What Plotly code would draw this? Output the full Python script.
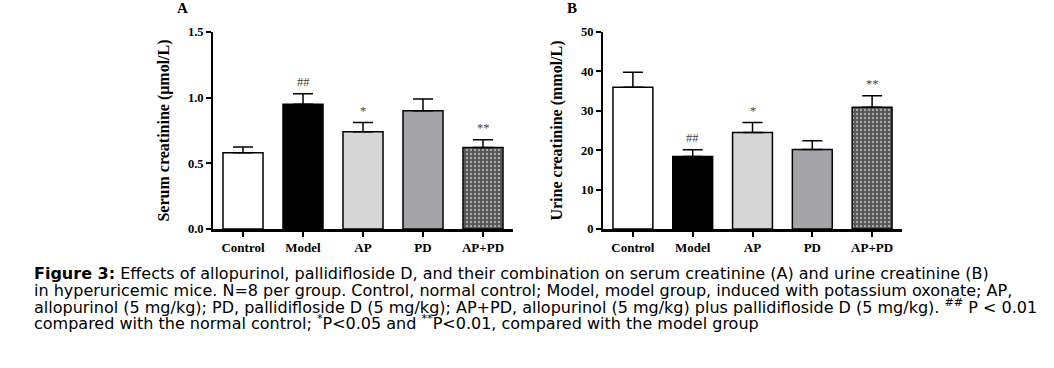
import plotly.graph_objects as go

W, H = 1054, 368

groups = ["Control", "Model", "AP", "PD", "AP+PD"]
serum_mean = [0.58, 0.95, 0.74, 0.90, 0.62]
serum_err = [0.045, 0.08, 0.07, 0.09, 0.06]
urine_mean = [36.0, 18.4, 24.5, 20.2, 30.9]
urine_err = [3.8, 1.7, 2.5, 2.2, 2.9]
sig_marks = ["", "##", "*", "", "**"]
serum_ticks = [0.0, 0.5, 1.0, 1.5]
urine_ticks = [0, 10, 20, 30, 40, 50]

fills = ["#ffffff", "#000000", "#d6d6d6", "#a3a3a8", "#555555"]

SERIF = "Liberation Serif"

def px_x(p):
    return p / W

def px_y(p):
    return 1 - p / H

fig = go.Figure()

def add_panel(xaxis, yaxis, means, errs):
    fig.add_trace(go.Bar(
        x=groups, y=means, xaxis=xaxis, yaxis=yaxis, width=0.667,
        marker=dict(
            color=fills,
            line=dict(color="black", width=1.5),
            pattern=dict(
                shape=["", "", "", "", "."],
                fgcolor="#9c9c9c",
                size=4, solidity=0.28,
                fillmode="overlay",
            ),
        ),
        error_y=dict(type="data", symmetric=False, array=errs,
                     arrayminus=[0] * len(errs), color="black",
                     thickness=1.5, width=10),
        showlegend=False, hoverinfo="skip",
    ))
    for g, m, e, s in zip(groups, means, errs, sig_marks):
        if s:
            fig.add_annotation(
                x=g, y=m + e, xref=xaxis, yref=yaxis, text=s,
                showarrow=False, yanchor="bottom", yshift=3,
                font=dict(family=SERIF, size=12.5, color="#444444"),
            )

add_panel("x", "y", serum_mean, serum_err)
add_panel("x2", "y2", urine_mean, urine_err)

ydom = [px_y(229), px_y(32)]
common_x = dict(
    range=[-0.5, 4.5], showline=True, linecolor="black", linewidth=2.5,
    ticks="outside", ticklen=5, tickwidth=2, tickcolor="black",
    tickfont=dict(family=SERIF, size=13, color="black", weight="bold"),
    showgrid=False, zeroline=False, fixedrange=True, automargin=False,
)
common_y = dict(
    showline=True, linecolor="black", linewidth=2,
    ticks="outside", ticklen=5, tickwidth=2, tickcolor="black",
    tickfont=dict(family=SERIF, size=12.5, color="black", weight="bold"),
    showgrid=False, zeroline=False, fixedrange=True, automargin=False,
    title=dict(font=dict(family=SERIF, size=16, color="black", weight="bold"),
               standoff=14),
)

fig.update_layout(
    width=W, height=H,
    margin=dict(l=0, r=0, t=0, b=0, autoexpand=False),
    paper_bgcolor="white", plot_bgcolor="white",
    xaxis=dict(domain=[px_x(213), px_x(513)], anchor="y", **common_x),
    yaxis=dict(domain=ydom, anchor="x", range=[0, 1.5],
               tickvals=serum_ticks, ticktext=[f"{v:.1f}" for v in serum_ticks],
               **{**common_y, "title": {**common_y["title"], "text": "Serum creatinine (μmol/L)"}}),
    xaxis2=dict(domain=[px_x(603), px_x(902)], anchor="y2", **common_x),
    yaxis2=dict(domain=ydom, anchor="x2", range=[0, 50],
                tickvals=urine_ticks, ticktext=[str(v) for v in urine_ticks],
                **{**common_y, "title": {**common_y["title"], "text": "Urine creatinine (mmol/L)"}}),
)

# panel letters
for lab, xp in [("A", 182), ("B", 572)]:
    fig.add_annotation(x=px_x(xp), y=px_y(8), xref="paper", yref="paper",
                       text=lab, showarrow=False, xanchor="center", yanchor="middle",
                       font=dict(family=SERIF, size=15, color="black", weight="bold"))

caption_lines = [
    "<b>Figure 3:</b> Effects of allopurinol, pallidifloside D, and their combination on serum creatinine (A) and urine creatinine (B)",
    "in hyperuricemic mice. N=8 per group. Control, normal control; Model, model group, induced with potassium oxonate; AP,",
    "allopurinol (5 mg/kg); PD, pallidifloside D (5 mg/kg); AP+PD, allopurinol (5 mg/kg) plus pallidifloside D (5 mg/kg). <sup>##</sup> P &lt; 0.01",
    "compared with the normal control; <sup>*</sup>P&lt;0.05 and <sup>**</sup>P&lt;0.01, compared with the model group",
]
caption_y = [273, 290, 306.5, 322]
for t, yp in zip(caption_lines, caption_y):
    fig.add_annotation(x=px_x(32), y=px_y(yp), xref="paper", yref="paper",
                       text=t, showarrow=False, xanchor="left", yanchor="middle",
                       align="left",
                       font=dict(family="DejaVu Sans", size=16, color="black"))

fig.write_html("out.html",
               config={"displayModeBar": False, "staticPlot": True},
               post_script="document.body.style.margin='0';")
